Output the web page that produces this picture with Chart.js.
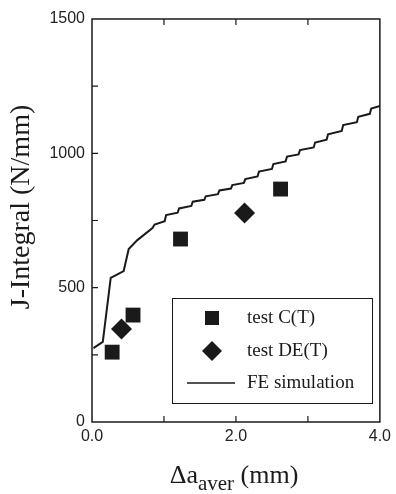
<!DOCTYPE html>
<html>
<head>
<meta charset="utf-8">
<script src="https://cdn.jsdelivr.net/npm/chart.js@4/dist/chart.umd.min.js"></script>
<style>
html, body { margin: 0; padding: 0; background: #fff; }
#wrap { width: 396px; height: 494px; }
</style>
</head>
<body>
<div id="wrap"><canvas id="jChart" width="396" height="494"></canvas></div>
<script>
// test C(T) - squares
const ctX = [0.28, 0.57, 1.23, 2.62];
const ctY = [260, 398, 681, 867];
// test DE(T) - diamonds
const deX = [0.41, 2.12];
const deY = [346, 778];
// FE simulation curve (staircase)
const feX = [0.02, 0.15, 0.26, 0.44, 0.51, 0.63, 0.84, 0.87, 1.01, 1.03, 1.19, 1.21, 1.38, 1.40, 1.56, 1.58,
             1.75, 1.77, 1.93, 1.95, 2.11, 2.13, 2.30, 2.32, 2.50, 2.52, 2.69, 2.71, 2.87, 2.89, 3.08, 3.10,
             3.26, 3.28, 3.47, 3.49, 3.68, 3.70, 3.86, 3.88, 4.00];
const feY = [275, 298, 536, 562, 644, 677, 722, 735, 747, 770, 779, 795, 804, 820, 827, 840,
             848, 862, 869, 882, 890, 904, 914, 932, 942, 960, 970, 988, 996, 1012, 1022, 1040,
             1051, 1071, 1083, 1105, 1116, 1136, 1147, 1167, 1176];
const xTickLabels = ['0.0', '2.0', '4.0'];
const yTickLabels = ['0', '500', '1000', '1500'];

function pts(xs, ys) {
    return xs.map(function (x, i) { return { x: x, y: ys[i] }; });
}

const ink = '#1a1a1a';
const serif = '"Liberation Serif", "Times New Roman", serif';
const sans = '"Liberation Sans", Arial, sans-serif';

const framePlugin = {
    id: 'frame',
    afterDraw: function (chart) {
        const ctx = chart.ctx;
        const a = chart.chartArea;
        const xs = chart.scales.x, ys = chart.scales.y;
        ctx.save();
        ctx.strokeStyle = ink;
        ctx.lineWidth = 1.5;
        ctx.strokeRect(a.left, a.top, a.right - a.left, a.bottom - a.top);

        // inward ticks
        ctx.lineWidth = 1.2;
        ctx.beginPath();
        xs.ticks.forEach(function (t) {
            if (t.value <= xs.min || t.value >= xs.max) return;
            const px = xs.getPixelForValue(t.value);
            ctx.moveTo(px, a.bottom); ctx.lineTo(px, a.bottom - 6);
            ctx.moveTo(px, a.top); ctx.lineTo(px, a.top + 6);
        });
        ys.ticks.forEach(function (t) {
            if (t.value <= ys.min || t.value >= ys.max) return;
            const py = ys.getPixelForValue(t.value);
            ctx.moveTo(a.left, py); ctx.lineTo(a.left + 6, py);
        });
        ctx.stroke();

        // legend box
        ctx.lineWidth = 1;
        ctx.strokeRect(172.5, 298.5, 200, 105);
        ctx.fillStyle = ink;
        ctx.fillRect(205, 311, 14, 14);
        ctx.beginPath();
        ctx.moveTo(212, 341); ctx.lineTo(222, 351); ctx.lineTo(212, 361); ctx.lineTo(202, 351);
        ctx.closePath(); ctx.fill();
        ctx.lineWidth = 1.5;
        ctx.beginPath(); ctx.moveTo(187, 383); ctx.lineTo(235, 383); ctx.stroke();
        ctx.font = '19px ' + serif;
        ctx.textBaseline = 'middle';
        ctx.textAlign = 'left';
        ctx.fillText('test C(T)', 247, 318);
        ctx.fillText('test DE(T)', 247, 351);
        ctx.fillText('FE simulation', 247, 383);

        // x title with subscript
        ctx.textBaseline = 'alphabetic';
        const big = '26px ' + serif, small = '21px ' + serif;
        ctx.font = big; const w1 = ctx.measureText('\u0394a').width; const w3 = ctx.measureText(' (mm)').width;
        ctx.font = small; const w2 = ctx.measureText('aver').width;
        let x0 = 234 - (w1 + w2 + w3) / 2;
        ctx.font = big; ctx.fillText('\u0394a', x0, 483);
        ctx.font = small; ctx.fillText('aver', x0 + w1, 490);
        ctx.font = big; ctx.fillText(' (mm)', x0 + w1 + w2, 483);

        // y title
        ctx.translate(22, 207);
        ctx.rotate(-Math.PI / 2);
        ctx.textAlign = 'center';
        ctx.textBaseline = 'middle';
        ctx.font = '28px ' + serif;
        ctx.fillText('J-Integral (N/mm)', 0, 0);
        ctx.restore();
    }
};

new Chart(document.getElementById('jChart').getContext('2d'), {
    type: 'scatter',
    data: {
        datasets: [{
            label: 'test C(T)',
            data: pts(ctX, ctY),
            pointStyle: 'rect',
            pointRadius: 10.5,
            backgroundColor: ink,
            borderColor: ink,
            borderWidth: 0
        }, {
            label: 'test DE(T)',
            data: pts(deX, deY),
            pointStyle: 'rectRot',
            pointRadius: 10.5,
            backgroundColor: ink,
            borderColor: ink,
            borderWidth: 0
        }, {
            label: 'FE simulation',
            type: 'line',
            data: pts(feX, feY),
            showLine: true,
            pointRadius: 0,
            borderColor: ink,
            borderWidth: 2,
            fill: false,
            tension: 0
        }]
    },
    options: {
        responsive: false,
        animation: false,
        devicePixelRatio: 1,
        layout: { padding: { left: 0, right: 14, top: 19, bottom: 0 } },
        plugins: { legend: { display: false }, tooltip: { enabled: false } },
        scales: {
            x: {
                type: 'linear', min: 0, max: 4,
                grid: { drawOnChartArea: false, drawTicks: false },
                border: { display: false },
                ticks: {
                    stepSize: 1, padding: 5, color: '#222', maxRotation: 0,
                    font: { family: sans, size: 16 },
                    callback: function (v) { return v % 2 === 0 ? xTickLabels[v / 2] : ''; }
                },
                afterFit: function (s) { s.height = 72; }
            },
            y: {
                min: 0, max: 1500,
                grid: { drawOnChartArea: false, drawTicks: false },
                border: { display: false },
                ticks: {
                    stepSize: 250, padding: 7, color: '#222',
                    font: { family: sans, size: 16 },
                    callback: function (v) { return v % 500 === 0 ? yTickLabels[v / 500] : ''; }
                },
                afterFit: function (s) { s.width = 92; }
            }
        }
    },
    plugins: [framePlugin]
});
</script>
</body>
</html>
